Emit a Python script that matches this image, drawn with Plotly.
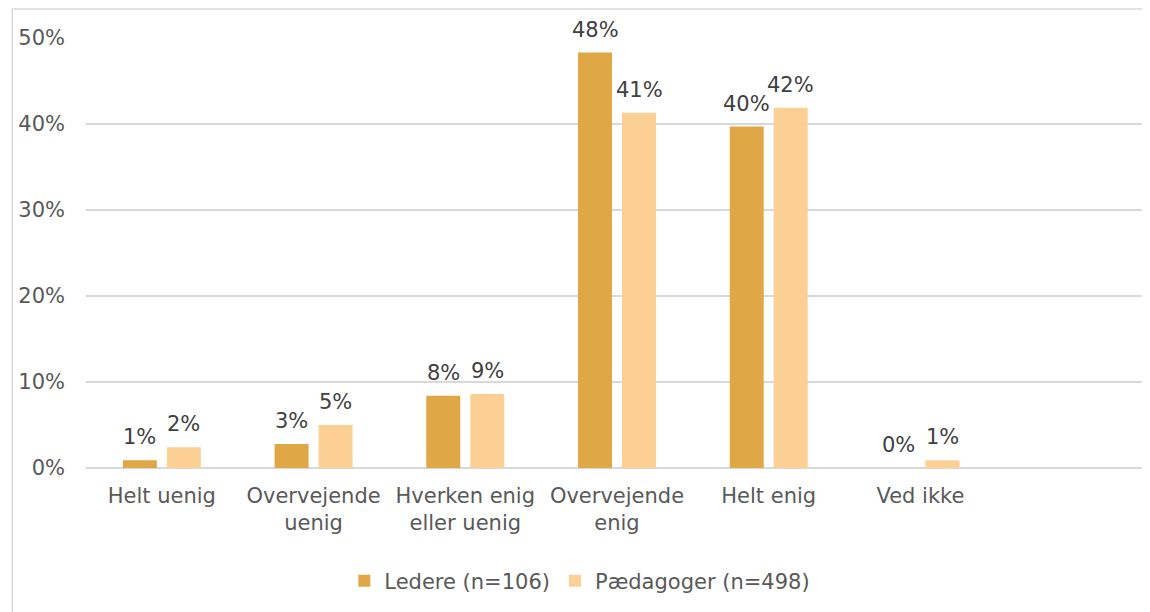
import plotly.graph_objects as go

CATEGORIES = [
    "Helt uenig",
    "Overvejende<br>uenig",
    "Hverken enig<br>eller uenig",
    "Overvejende<br>enig",
    "Helt enig",
    "Ved ikke",
    " ",
]
LEDERE = [0.009, 0.028, 0.084, 0.483, 0.397, 0.0, None]
PAEDAGOGER = [0.024, 0.050, 0.086, 0.413, 0.419, 0.009, None]

SERIES_NAMES = ["Ledere (n=106)", "Pædagoger (n=498)"]
COLORS = ["#DFA746", "#FCD094"]
FONT = "Verdana, DejaVu Sans, sans-serif"
BAR_SHIFT = [-22, 22]  # pixel offset of each series inside its group

fig = go.Figure()
for name, values, color, shift in zip(SERIES_NAMES, [LEDERE, PAEDAGOGER], COLORS, BAR_SHIFT):
    fig.add_trace(
        go.Bar(
            x=CATEGORIES,
            y=values,
            name=name,
            marker=dict(color=color, line=dict(width=0)),
        )
    )
    # value labels above the bars
    for cat, val in zip(CATEGORIES, values):
        if val is None:
            continue
        fig.add_annotation(
            x=cat,
            y=val,
            text=f"{val:.0%}",
            showarrow=False,
            xshift=shift,
            yshift=9,
            yanchor="bottom",
            font=dict(family=FONT, size=21, color="#404040"),
        )

fig.update_layout(
    width=1150,
    height=612,
    margin=dict(l=74, r=10, t=30, b=152),
    paper_bgcolor="white",
    plot_bgcolor="white",
    barmode="group",
    bargap=0.42,
    bargroupgap=0.227,
    font=dict(family=FONT, size=21, color="#595959"),
    legend=dict(
        orientation="h",
        x=0.465,
        xanchor="center",
        y=-0.263,
        yanchor="middle",
        font=dict(family=FONT, size=21, color="#595959"),
        itemwidth=30,
    ),
    showlegend=True,
)
fig.update_xaxes(
    showgrid=False,
    showline=False,
    ticks="",
    ticklabelstandoff=13,
    tickfont=dict(family=FONT, size=21, color="#595959"),
)
fig.update_yaxes(
    range=[0, 0.5],
    tickvals=[0, 0.1, 0.2, 0.3, 0.4, 0.5],
    tickformat=".0%",
    showgrid=True,
    gridcolor="#D9D9D9",
    gridwidth=1.5,
    zeroline=True,
    zerolinecolor="#D9D9D9",
    zerolinewidth=1.5,
    ticklabelstandoff=20,
    tickfont=dict(family=FONT, size=21, color="#595959"),
)
# outer chart border
fig.add_shape(
    type="rect",
    xref="paper",
    yref="paper",
    x0=-0.0694,
    x1=1.2,
    y0=-0.5,
    y1=1.0674,
    line=dict(color="#D9D9D9", width=1.5),
    fillcolor="rgba(0,0,0,0)",
    layer="below",
)

fig.write_html("out.html")
